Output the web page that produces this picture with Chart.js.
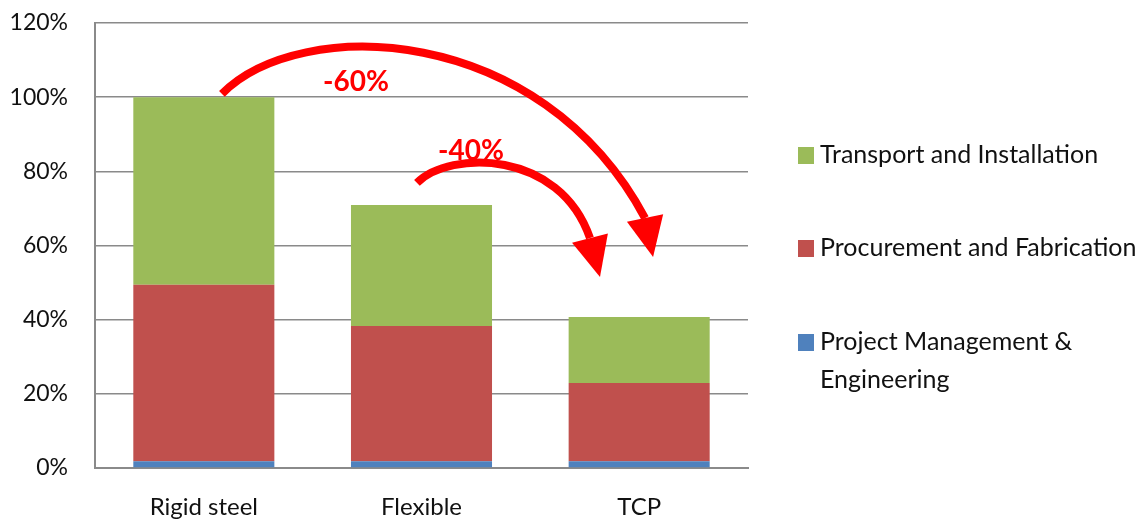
<!DOCTYPE html>
<html>
<head>
<meta charset="utf-8">
<script src="https://cdn.jsdelivr.net/npm/chart.js@4.4.1/dist/chart.umd.min.js"></script>
<style>
  html, body { margin: 0; padding: 0; background: #ffffff; }
  #wrap { width: 1141px; height: 521px; }
</style>
</head>
<body>
<div id="wrap"><canvas id="c" width="1141" height="521"></canvas></div>
<script>
// ---- data ----
const categories = ['Rigid steel', 'Flexible', 'TCP'];
const projectMgmt = [1.8, 1.8, 1.8];
const procurement = [47.6, 36.5, 21.1];
const transport = [50.6, 32.6, 17.8];
const seriesNames = ['Project Management & Engineering', 'Procurement and Fabrication', 'Transport and Installation'];
const legendLines = [['Project Management &', 'Engineering'], ['Procurement and Fabrication'], ['Transport and Installation']];
const yTicks = [0, 20, 40, 60, 80, 100, 120];

// arrow annotations in data coordinates [categoryIndex, value]
const arrowBig = [[0.083, 100.9], [0.442, 122.2], [1.544, 120.3], [2.027, 67.4]];
const arrowBigTip = [2.064, 56.9];
const arrowSmall = [[0.979, 76.9], [1.131, 85.8], [1.636, 85.8], [1.774, 62.0]];
const arrowSmallTip = [1.820, 51.5];
const arrowLabels = [['-60%', 0.699, 104.1], ['-40%', 1.227, 85.5]];

const colors = ['#4F81BD', '#C0504D', '#9BBB59'];
const FONT = 'Lato, "Open Sans", sans-serif';

const arrowsPlugin = {
  id: 'arrows',
  afterDatasetsDraw(chart) {
    const ctx = chart.ctx, xs = chart.scales.x, ys = chart.scales.y;
    const P = p => [xs.getPixelForValue(p[0]), ys.getPixelForValue(p[1])];
    function arrow(pts, tip) {
      const q = pts.map(P);
      const t = P(tip);
      ctx.save();
      ctx.strokeStyle = '#FF0000';
      ctx.lineWidth = 8;
      ctx.lineCap = 'butt';
      ctx.beginPath();
      ctx.moveTo(q[0][0], q[0][1]);
      ctx.bezierCurveTo(q[1][0], q[1][1], q[2][0], q[2][1], q[3][0], q[3][1]);
      ctx.stroke();
      const dx = t[0] - q[3][0], dy = t[1] - q[3][1];
      const L = Math.hypot(dx, dy);
      const nx = -dy / L, ny = dx / L, hw = 18.5;
      ctx.fillStyle = '#FF0000';
      ctx.beginPath();
      ctx.moveTo(q[3][0] + nx * hw, q[3][1] + ny * hw);
      ctx.lineTo(t[0], t[1]);
      ctx.lineTo(q[3][0] - nx * hw, q[3][1] - ny * hw);
      ctx.closePath();
      ctx.fill();
      ctx.restore();
    }
    arrow(arrowBig, arrowBigTip);
    arrow(arrowSmall, arrowSmallTip);
    ctx.save();
    ctx.fillStyle = '#FF0000';
    ctx.font = 'bold 28px ' + FONT;
    ctx.textAlign = 'center';
    ctx.textBaseline = 'middle';
    arrowLabels.forEach(l => {
      const p = P([l[1], l[2]]);
      ctx.fillText(l[0], p[0], p[1]);
    });
    ctx.restore();
  }
};

const legendPlugin = {
  id: 'customLegend',
  afterDraw(chart) {
    const ctx = chart.ctx;
    const area = chart.chartArea;
    const ds = chart.data.datasets;
    const x0 = area.right + 50;
    const centers = [342, 248, 155];
    ctx.save();
    ctx.font = '25px ' + FONT;
    ctx.textBaseline = 'middle';
    ctx.textAlign = 'left';
    for (let i = ds.length - 1; i >= 0; i--) {
      const cy = centers[i];
      ctx.fillStyle = ds[i].backgroundColor;
      ctx.fillRect(x0, cy - 8, 16, 17);
      ctx.fillStyle = '#111111';
      legendLines[i].forEach((line, k) => {
        ctx.fillText(line, x0 + 22, cy + k * 38);
      });
    }
    ctx.restore();
  }
};

new Chart(document.getElementById('c'), {
  type: 'bar',
  data: {
    labels: categories,
    datasets: [
      { label: seriesNames[0], data: projectMgmt, backgroundColor: colors[0] },
      { label: seriesNames[1], data: procurement, backgroundColor: colors[1] },
      { label: seriesNames[2], data: transport, backgroundColor: colors[2] }
    ]
  },
  options: {
    responsive: false,
    devicePixelRatio: 1,
    animation: false,
    layout: { padding: { top: 23, right: 393, left: 0, bottom: 0 } },
    datasets: { bar: { categoryPercentage: 0.648, barPercentage: 1, borderWidth: 0 } },
    plugins: { legend: { display: false }, tooltip: { enabled: false } },
    scales: {
      x: {
        stacked: true,
        grid: { display: false, drawTicks: false },
        border: { display: true, color: '#8a8a8a', width: 2 },
        ticks: { color: '#111111', font: { family: FONT, size: 24 }, padding: 25 },
        afterFit(s) { s.height = 53; }
      },
      y: {
        stacked: true,
        min: 0, max: 120,
        afterBuildTicks(s) { s.ticks = yTicks.map(v => ({ value: v })); },
        grid: { color: '#8a8a8a', lineWidth: 1.5, drawTicks: true, tickLength: 27, tickColor: 'rgba(0,0,0,0)' },
        border: { display: true, color: '#8a8a8a', width: 2 },
        ticks: { color: '#111111', font: { family: FONT, size: 23 }, padding: 0, callback: v => v + '%' },
        afterFit(s) { s.width = 95; }
      }
    }
  },
  plugins: [arrowsPlugin, legendPlugin]
});
</script>
</body>
</html>
